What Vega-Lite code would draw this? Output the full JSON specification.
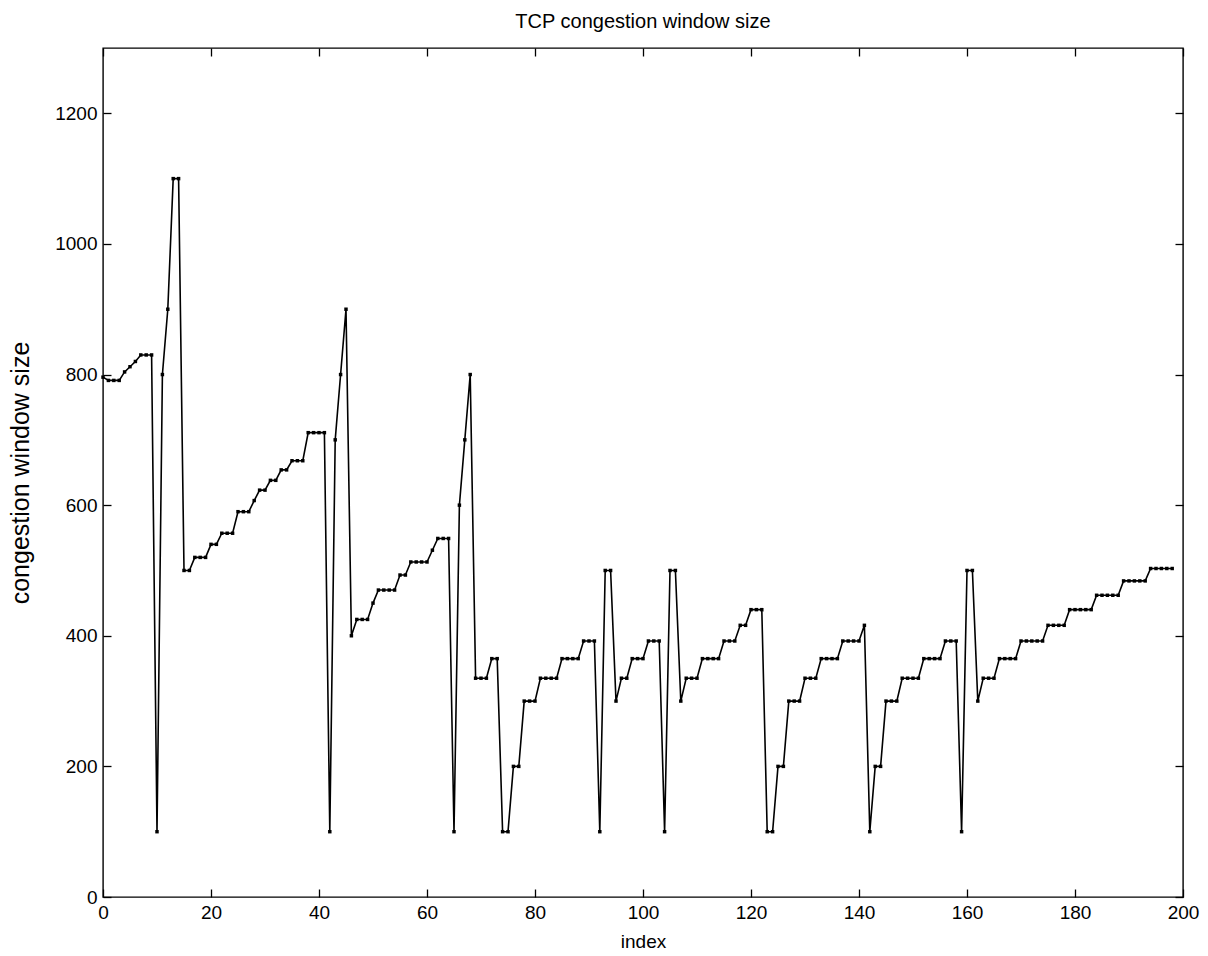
{
  "$schema": "https://vega.github.io/schema/vega-lite/v6.json",
  "width": 1080,
  "height": 849,
  "autosize": {"type": "none"},
  "padding": {"left": 103, "top": 48, "right": 25, "bottom": 59},
  "background": "white",
  "config": {
    "font": "Liberation Sans",
    "view": {"stroke": "black", "strokeWidth": 1.4},
    "axis": {"grid": false, "domain": false, "tickColor": "black", "labelColor": "black", "titleColor": "black", "labelFont": "Liberation Sans", "titleFont": "Liberation Sans", "labelFontSize": 19, "titleFontSize": 19, "titleFontWeight": "normal", "tickWidth": 1.3, "tickSize": 8, "offset": -8}
  },
  "title": {"text": "TCP congestion window size", "fontSize": 20, "fontWeight": "normal", "font": "Liberation Sans", "color": "black", "anchor": "middle", "offset": 15},
  "data": {"values": [
    {"i":0,"w":796},{"i":1,"w":791},{"i":2,"w":791},{"i":3,"w":791},{"i":4,"w":804},{"i":5,"w":812},{"i":6,"w":820},{"i":7,"w":830},{"i":8,"w":830},{"i":9,"w":830},
    {"i":10,"w":100},{"i":11,"w":800},{"i":12,"w":900},{"i":13,"w":1100},{"i":14,"w":1100},{"i":15,"w":500},{"i":16,"w":500},{"i":17,"w":520},{"i":18,"w":520},{"i":19,"w":520},
    {"i":20,"w":540},{"i":21,"w":540},{"i":22,"w":557},{"i":23,"w":557},{"i":24,"w":557},{"i":25,"w":590},{"i":26,"w":590},{"i":27,"w":590},{"i":28,"w":607},{"i":29,"w":623},
    {"i":30,"w":623},{"i":31,"w":638},{"i":32,"w":638},{"i":33,"w":654},{"i":34,"w":654},{"i":35,"w":668},{"i":36,"w":668},{"i":37,"w":668},{"i":38,"w":711},{"i":39,"w":711},
    {"i":40,"w":711},{"i":41,"w":711},{"i":42,"w":100},{"i":43,"w":700},{"i":44,"w":800},{"i":45,"w":900},{"i":46,"w":400},{"i":47,"w":425},{"i":48,"w":425},{"i":49,"w":425},
    {"i":50,"w":450},{"i":51,"w":470},{"i":52,"w":470},{"i":53,"w":470},{"i":54,"w":470},{"i":55,"w":493},{"i":56,"w":493},{"i":57,"w":513},{"i":58,"w":513},{"i":59,"w":513},
    {"i":60,"w":513},{"i":61,"w":531},{"i":62,"w":549},{"i":63,"w":549},{"i":64,"w":549},{"i":65,"w":100},{"i":66,"w":600},{"i":67,"w":700},{"i":68,"w":800},{"i":69,"w":335},
    {"i":70,"w":335},{"i":71,"w":335},{"i":72,"w":365},{"i":73,"w":365},{"i":74,"w":100},{"i":75,"w":100},{"i":76,"w":200},{"i":77,"w":200},{"i":78,"w":300},{"i":79,"w":300},
    {"i":80,"w":300},{"i":81,"w":335},{"i":82,"w":335},{"i":83,"w":335},{"i":84,"w":335},{"i":85,"w":365},{"i":86,"w":365},{"i":87,"w":365},{"i":88,"w":365},{"i":89,"w":392},
    {"i":90,"w":392},{"i":91,"w":392},{"i":92,"w":100},{"i":93,"w":500},{"i":94,"w":500},{"i":95,"w":300},{"i":96,"w":335},{"i":97,"w":335},{"i":98,"w":365},{"i":99,"w":365},
    {"i":100,"w":365},{"i":101,"w":392},{"i":102,"w":392},{"i":103,"w":392},{"i":104,"w":100},{"i":105,"w":500},{"i":106,"w":500},{"i":107,"w":300},{"i":108,"w":335},{"i":109,"w":335},
    {"i":110,"w":335},{"i":111,"w":365},{"i":112,"w":365},{"i":113,"w":365},{"i":114,"w":365},{"i":115,"w":392},{"i":116,"w":392},{"i":117,"w":392},{"i":118,"w":416},{"i":119,"w":416},
    {"i":120,"w":440},{"i":121,"w":440},{"i":122,"w":440},{"i":123,"w":100},{"i":124,"w":100},{"i":125,"w":200},{"i":126,"w":200},{"i":127,"w":300},{"i":128,"w":300},{"i":129,"w":300},
    {"i":130,"w":335},{"i":131,"w":335},{"i":132,"w":335},{"i":133,"w":365},{"i":134,"w":365},{"i":135,"w":365},{"i":136,"w":365},{"i":137,"w":392},{"i":138,"w":392},{"i":139,"w":392},
    {"i":140,"w":392},{"i":141,"w":416},{"i":142,"w":100},{"i":143,"w":200},{"i":144,"w":200},{"i":145,"w":300},{"i":146,"w":300},{"i":147,"w":300},{"i":148,"w":335},{"i":149,"w":335},
    {"i":150,"w":335},{"i":151,"w":335},{"i":152,"w":365},{"i":153,"w":365},{"i":154,"w":365},{"i":155,"w":365},{"i":156,"w":392},{"i":157,"w":392},{"i":158,"w":392},{"i":159,"w":100},
    {"i":160,"w":500},{"i":161,"w":500},{"i":162,"w":300},{"i":163,"w":335},{"i":164,"w":335},{"i":165,"w":335},{"i":166,"w":365},{"i":167,"w":365},{"i":168,"w":365},{"i":169,"w":365},
    {"i":170,"w":392},{"i":171,"w":392},{"i":172,"w":392},{"i":173,"w":392},{"i":174,"w":392},{"i":175,"w":416},{"i":176,"w":416},{"i":177,"w":416},{"i":178,"w":416},{"i":179,"w":440},
    {"i":180,"w":440},{"i":181,"w":440},{"i":182,"w":440},{"i":183,"w":440},{"i":184,"w":462},{"i":185,"w":462},{"i":186,"w":462},{"i":187,"w":462},{"i":188,"w":462},{"i":189,"w":484},
    {"i":190,"w":484},{"i":191,"w":484},{"i":192,"w":484},{"i":193,"w":484},{"i":194,"w":503},{"i":195,"w":503},{"i":196,"w":503},{"i":197,"w":503},{"i":198,"w":503}
  ]},
  "layer": [
    {
      "mark": {"type": "line", "color": "black", "strokeWidth": 1.6, "point": {"filled": true, "color": "black", "size": 12, "shape": "square"}},
      "encoding": {
        "x": {"field": "i", "type": "quantitative", "scale": {"domain": [0, 200], "nice": false, "zero": false}, "axis": {"orient": "bottom", "title": "index", "values": [0,20,40,60,80,100,120,140,160,180,200], "labelPadding": 6, "titlePadding": 10, "labelFlush": false, "format": "d"}},
        "y": {"field": "w", "type": "quantitative", "scale": {"domain": [0, 1300], "nice": false}, "axis": {"orient": "left", "title": "congestion window size", "titleFontSize": 25, "values": [0,200,400,600,800,1000,1200], "labelPadding": 6, "titlePadding": 21, "format": "d", "labelFlush": false}}
      }
    },
    {
      "mark": {"type": "line", "opacity": 0},
      "encoding": {
        "x": {"field": "i", "type": "quantitative", "axis": {"orient": "top", "title": null, "labels": false, "values": [0,20,40,60,80,100,120,140,160,180,200]}},
        "y": {"field": "w", "type": "quantitative", "axis": {"orient": "right", "title": null, "labels": false, "values": [0,200,400,600,800,1000,1200]}}
      }
    }
  ],
  "resolve": {"axis": {"x": "independent", "y": "independent"}}
}
